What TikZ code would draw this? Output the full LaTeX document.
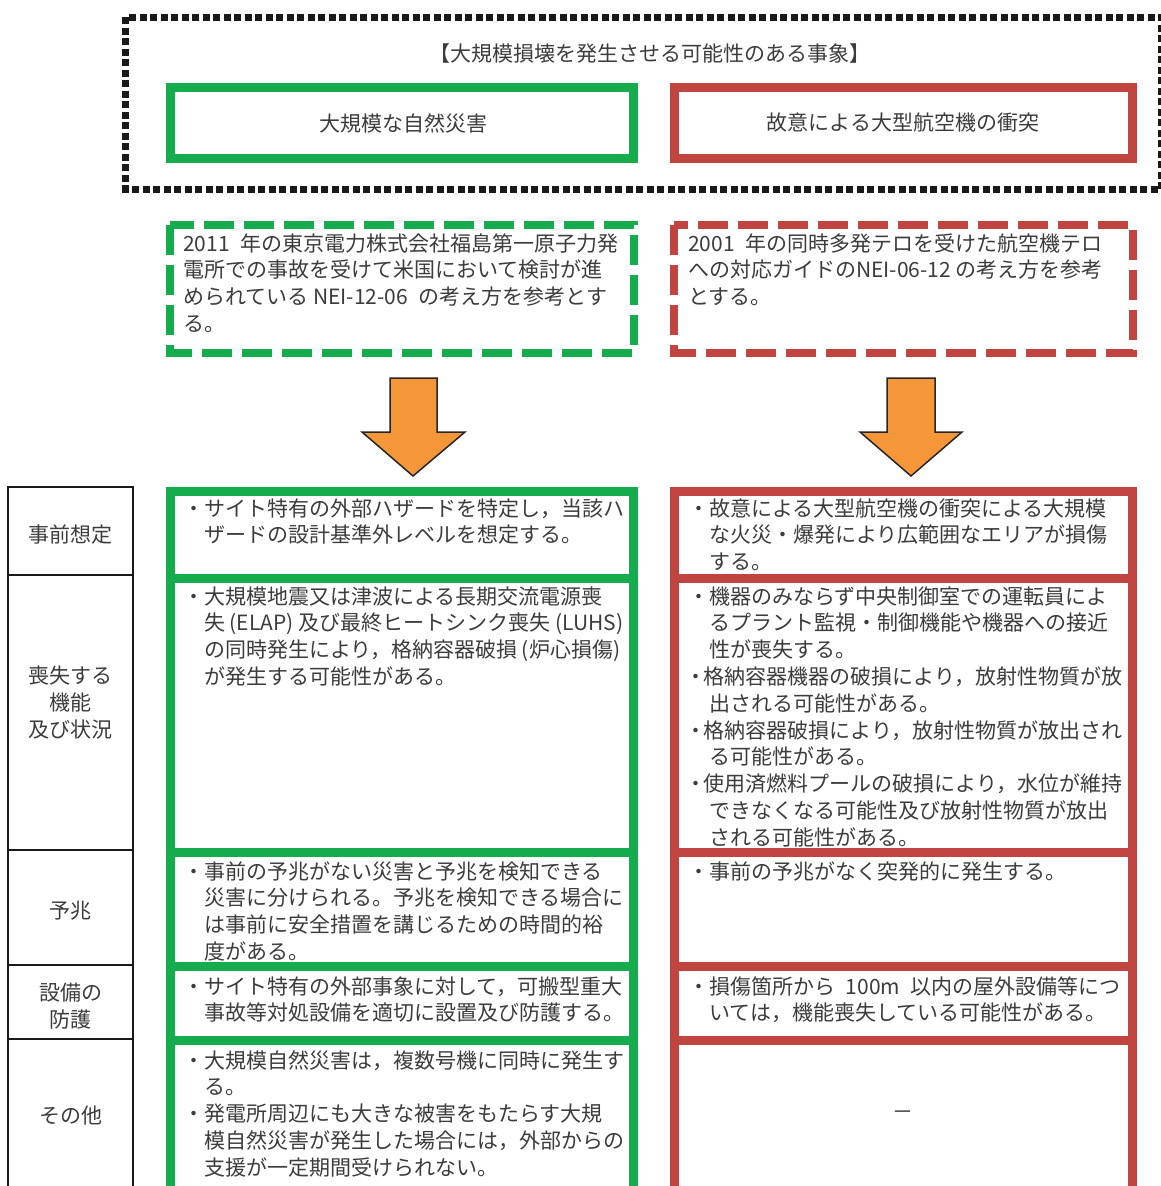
\documentclass[tikz,border=0pt]{standalone}
\usepackage{fontspec}
\setmainfont{Noto Sans CJK JP}
\definecolor{gborder}{RGB}{20,172,76}
\definecolor{rborder}{RGB}{192,68,64}
\definecolor{arroworange}{RGB}{245,150,56}
\definecolor{txt}{RGB}{60,60,60}
\newcommand{\nb}{\makebox[0.75em][c]{・}}
\begin{document}
\begin{tikzpicture}[x=1pt,y=-1pt,
  txtg/.style={anchor=base west,inner sep=0pt,align=left,text=txt,font=\fontsize{21pt}{26.8pt}\selectfont},
  txtr/.style={anchor=base west,inner sep=0pt,align=left,text=txt,font=\fontsize{21pt}{26.8pt}\selectfont},
  lbl/.style={anchor=center,inner sep=0pt,align=center,text=txt,font=\fontsize{21pt}{27pt}\selectfont},
  dotbox/.style={draw=black!90,line width=7pt,dash pattern=on 7pt off 3.5pt},
  gsolid/.style={draw=gborder,line width=9pt},
  rsolid/.style={draw=rborder,line width=9pt},
  gdash/.style={draw=gborder,line width=8pt,dash pattern=on 30pt off 10pt},
  rdash/.style={draw=rborder,line width=8pt,dash pattern=on 30pt off 10pt},
  blockarrow/.style={fill=arroworange,draw=black!85,line width=1.5pt,line join=miter},
  tablebox/.style={draw=black!90,line width=2pt}
]
\useasboundingbox (0,0) rectangle (1160,1186);
\fill[white] (0,0) rectangle (1160,1186);

% outer dotted frame
\draw[dotbox] (125.5,17) rectangle (1161,189);
\node[lbl] (title) at (650,54) {【大規模損壊を発生させる可能性のある事象】};

% top category boxes
\draw[gsolid] (170.5,87.5) rectangle (633.5,158.5);
\node[lbl] (natural) at (403,123) {大規模な自然災害};
\draw[rsolid] (674.5,87.5) rectangle (1132.5,158.5);
\node[lbl] (aircraft) at (903,123) {故意による大型航空機の衝突};

% dashed reference boxes (anchor = baseline of last line)
\draw[gdash] (170,225) rectangle (634,353);
\node[txtg] (gref) at (183,331.4) {2011\hspace{0.5em}年の東京電力株式会社福島第一原子力発\\電所での事故を受けて米国において検討が進\\められている NEI-12-06\hspace{0.5em}の考え方を参考とす\\る。};
\draw[rdash] (674,225) rectangle (1133,353);
\node[txtr] (rref) at (688,304.6) {2001\hspace{0.5em}年の同時多発テロを受けた航空機テロ\\への対応ガイドのNEI-06-12 の考え方を参考\\とする。};

% block arrows
\draw[blockarrow] (390,378) -- (437,378) -- (437,432) -- (465,432) -- (413,476) -- (362,432) -- (390,432) -- cycle;
\draw[blockarrow] (887,378) -- (935,378) -- (935,432) -- (962,432) -- (911,476) -- (860,432) -- (887,432) -- cycle;

% left label table
\draw[tablebox] (8,487) rectangle (133,1200);
\draw[tablebox] (8,575) -- (133,575);
\draw[tablebox] (8,850) -- (133,850);
\draw[tablebox] (8,965) -- (133,965);
\draw[tablebox] (8,1039) -- (133,1039);
\node[lbl] (l1) at (70.5,535) {事前想定};
\node[lbl] (l2) at (70.5,703) {喪失する\\機能\\及び状況};
\node[lbl] (l3) at (70.5,911) {予兆};
\node[lbl] (l4) at (70.5,1006) {設備の\\防護};
\node[lbl] (l5) at (70.5,1116) {その他};

% green column
\draw[gsolid] (170.5,491) rectangle (633.5,1200);
\draw[gsolid] (166,578.5) -- (638,578.5);
\draw[gsolid] (166,852.5) -- (638,852.5);
\draw[gsolid] (166,966.5) -- (638,966.5);
\draw[gsolid] (166,1040.5) -- (638,1040.5);

% red column
\draw[rsolid] (674.5,491) rectangle (1132.5,1200);
\draw[rsolid] (670,578.5) -- (1137,578.5);
\draw[rsolid] (670,852.5) -- (1137,852.5);
\draw[rsolid] (670,966.5) -- (1137,966.5);
\draw[rsolid] (670,1040.5) -- (1137,1040.5);

% green cell texts (anchor = baseline of last line)
\node[txtg] (g1) at (183,542.8) {・サイト特有の外部ハザードを特定し，当該ハ\\\hspace*{1em}ザードの設計基準外レベルを想定する。};
\node[txtg] (g2) at (183,684.4) {・大規模地震又は津波による長期交流電源喪\\\hspace*{1em}失 (ELAP) 及び最終ヒートシンク喪失 (LUHS)\\\hspace*{1em}の同時発生により，格納容器破損 (炉心損傷)\\\hspace*{1em}が発生する可能性がある。};
\node[txtg] (g3) at (183,959.4) {・事前の予兆がない災害と予兆を検知できる\\\hspace*{1em}災害に分けられる。予兆を検知できる場合に\\\hspace*{1em}は事前に安全措置を講じるための時間的裕\\\hspace*{1em}度がある。};
\node[txtg] (g4) at (183,1020.8) {・サイト特有の外部事象に対して，可搬型重大\\\hspace*{1em}事故等対処設備を適切に設置及び防護する。};
\node[txtg] (g5) at (183,1175.2) {・大規模自然災害は，複数号機に同時に発生す\\\hspace*{1em}る。\\・発電所周辺にも大きな被害をもたらす大規\\\hspace*{1em}模自然災害が発生した場合には，外部からの\\\hspace*{1em}支援が一定期間受けられない。};

% red cell texts
\node[txtr] (r1) at (688,569.6) {・故意による大型航空機の衝突による大規模\\\hspace*{1em}な火災・爆発により広範囲なエリアが損傷\\\hspace*{1em}する。};
\node[txtr] (r2) at (688,845.2) {・機器のみならず中央制御室での運転員によ\\\hspace*{1em}るプラント監視・制御機能や機器への接近\\\hspace*{1em}性が喪失する。\\\nb 格納容器機器の破損により，放射性物質が放\\\hspace*{1em}出される可能性がある。\\\nb 格納容器破損により，放射性物質が放出され\\\hspace*{1em}る可能性がある。\\\nb 使用済燃料プールの破損により，水位が維持\\\hspace*{1em}できなくなる可能性及び放射性物質が放出\\\hspace*{1em}される可能性がある。};
\node[txtr] (r3) at (688,879) {・事前の予兆がなく突発的に発生する。};
\node[txtr] (r4) at (688,1020.8) {・損傷箇所から\hspace{0.5em}100m\hspace{0.5em}以内の屋外設備等につ\\\hspace*{1em}いては，機能喪失している可能性がある。};
\node[lbl] (r5) at (903,1115) {－};
\end{tikzpicture}
\end{document}
